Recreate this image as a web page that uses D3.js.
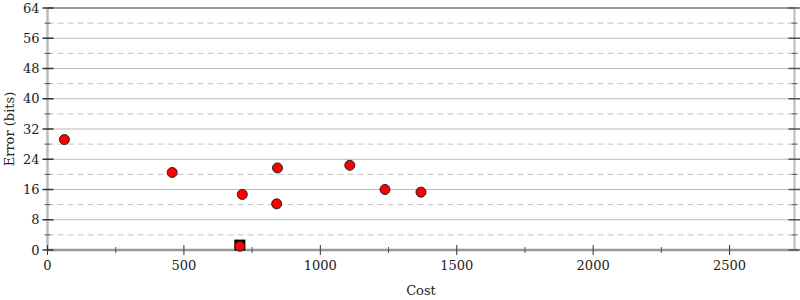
<!DOCTYPE html>
<html><head><meta charset="utf-8">
<script src="https://cdn.jsdelivr.net/npm/d3@7"></script>
<style>body{margin:0;background:#fff}svg{display:block}text{font-family:"DejaVu Serif",serif;font-size:13px;fill:#222}</style>
</head><body><svg id="c" width="800" height="300"></svg>
<script>
const costs = [62, 457, 714, 843, 840, 1108, 1237, 1369, 705];
const errors = [29.2, 20.5, 14.7, 21.7, 12.2, 22.4, 16.0, 15.3, 1.0];
const bestCost = [705];
const bestError = [1.3];
const xTicks = [0, 500, 1000, 1500, 2000, 2500];
const yTicks = [0, 8, 16, 24, 32, 40, 48, 56, 64];

const svg = d3.select("#c");
const L = 47.5, R = 794.5, T = 8, B = 250;
const x = d3.scaleLinear().domain([0, 2738]).range([L, R]);
const y = d3.scaleLinear().domain([0, 64]).range([B, T]);

// grid
const g = svg.append("g");
const minorY = d3.range(4, 64, 8);
g.selectAll(".gm").data(minorY).join("line")
  .attr("x1", L).attr("x2", R).attr("y1", d => y(d)).attr("y2", d => y(d))
  .attr("stroke", "#c4c4c4").attr("stroke-dasharray", "6,4");
g.selectAll(".gM").data(yTicks.filter(d => d > 0 && d < 64)).join("line")
  .attr("x1", L).attr("x2", R).attr("y1", d => y(d)).attr("y2", d => y(d))
  .attr("stroke", d => d === 32 ? "#dddddd" : "#bbbbbb").attr("stroke-width", d => d === 32 ? 2 : 1.2);
// top line
svg.append("line").attr("x1", L).attr("x2", R).attr("y1", y(64)).attr("y2", y(64)).attr("stroke", "#999").attr("stroke-width", 2);
// left/right axes
svg.append("line").attr("x1", L).attr("x2", L).attr("y1", T).attr("y2", B).attr("stroke", "#bbb").attr("stroke-width", 2.5);
svg.append("line").attr("x1", R).attr("x2", R).attr("y1", T).attr("y2", B).attr("stroke", "#bbb").attr("stroke-width", 2);
// bottom axis
svg.append("line").attr("x1", L).attr("x2", R + 4).attr("y1", B).attr("y2", B).attr("stroke", "#999").attr("stroke-width", 2.5);

// y ticks
yTicks.forEach(d => {
  svg.append("line").attr("x1", L - 5).attr("x2", L + 6).attr("y1", y(d)).attr("y2", y(d)).attr("stroke", "#333").attr("stroke-width", 1.5);
  svg.append("line").attr("x1", R - 6).attr("x2", R + 6).attr("y1", y(d)).attr("y2", y(d)).attr("stroke", "#555").attr("stroke-width", 1.5);
  svg.append("text").attr("x", L - 8).attr("y", y(d)).attr("dy", "0.35em").attr("text-anchor", "end").text(d);
});
minorY.forEach(d => {
  svg.append("line").attr("x1", L - 3).attr("x2", L + 3).attr("y1", y(d)).attr("y2", y(d)).attr("stroke", "#555");
  svg.append("line").attr("x1", R - 3).attr("x2", R + 3).attr("y1", y(d)).attr("y2", y(d)).attr("stroke", "#555");
});
// x ticks
xTicks.forEach(d => {
  svg.append("line").attr("x1", x(d)).attr("x2", x(d)).attr("y1", B - 5).attr("y2", B + 5).attr("stroke", "#333");
  svg.append("text").attr("x", x(d)).attr("y", B + 20).attr("text-anchor", "middle").text(d);
});
d3.range(250, 2750, 500).forEach(d => {
  svg.append("line").attr("x1", x(d)).attr("x2", x(d)).attr("y1", B - 3).attr("y2", B + 3).attr("stroke", "#555");
});

// labels
svg.append("text").attr("x", x(1369) - 0).attr("y", 295).attr("text-anchor", "middle").attr("x", 421).text("Cost");
svg.append("text").attr("transform", `translate(14,${(T + B) / 2}) rotate(-90)`).attr("text-anchor", "middle").text("Error (bits)");

// best square
svg.selectAll(".sq").data(bestCost).join("rect")
  .attr("x", (d) => x(d) - 5.5).attr("y", (d, i) => y(bestError[i]) - 5.5)
  .attr("width", 11).attr("height", 11).attr("fill", "#000");

// points
svg.selectAll(".pt").data(costs).join("circle")
  .attr("cx", d => x(d)).attr("cy", (d, i) => y(errors[i])).attr("r", 5)
  .attr("fill", "#ff0000").attr("stroke", "#222").attr("stroke-width", 1);
</script></body></html>
